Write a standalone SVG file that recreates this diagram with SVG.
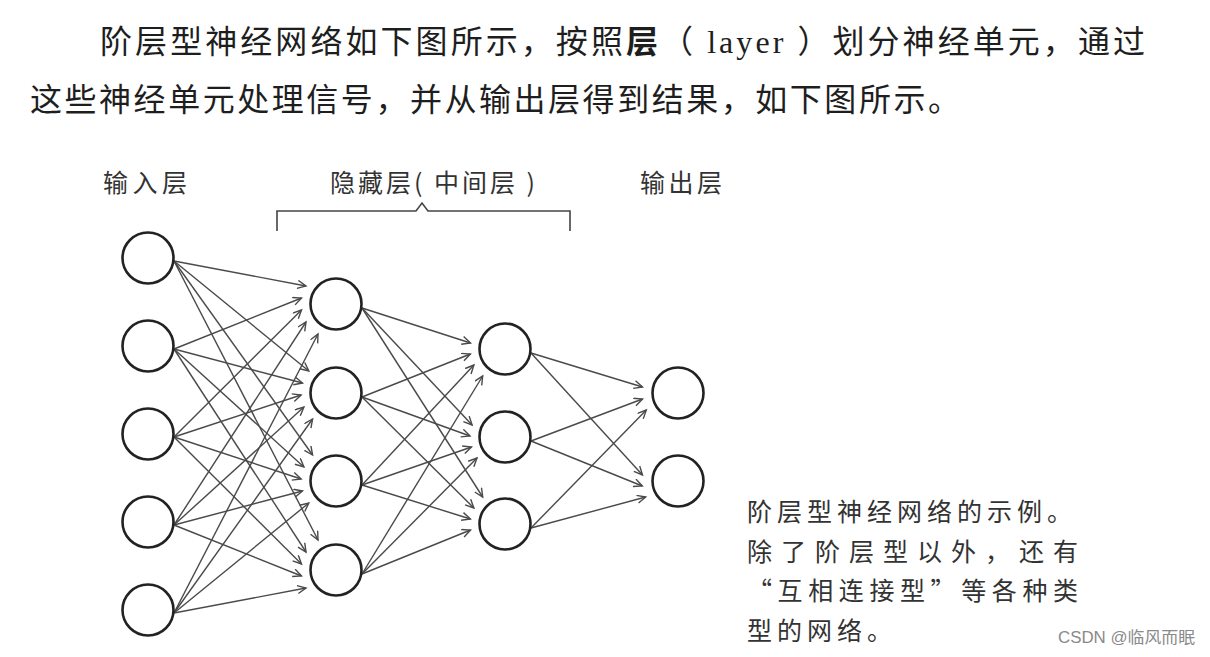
<svg xmlns="http://www.w3.org/2000/svg" width="1210" height="657" viewBox="0 0 1210 657">
<style>
.para{font-family:"Liberation Serif","Noto Sans CJK SC",serif;font-size:32px;fill:#1e1e1e}
.lbl{font-family:"Noto Sans CJK SC","Noto Sans",sans-serif;font-size:25px;fill:#333}
.cap{font-family:"Noto Sans CJK SC","Noto Sans",sans-serif;font-size:25px;fill:#333}
.wm{font-family:"Liberation Sans","Noto Sans CJK SC",sans-serif;font-size:16px;fill:#8a8a8a}
.node{fill:#fff;stroke:#222;stroke-width:2.6}
.edge{stroke:#4a4a4a;stroke-width:1.4;fill:none;marker-end:url(#ah)}
</style>
<defs>
<marker id="ah" markerWidth="11" markerHeight="11" refX="9" refY="4.5" orient="auto" markerUnits="userSpaceOnUse">
<path d="M0.5,0.5 L9,4.5 L0.5,8.5" fill="none" stroke="#4a4a4a" stroke-width="1.4"/>
</marker>
</defs>
<rect width="1210" height="657" fill="#fff"/>
<text class="para" x="100" y="53" textLength="1045" lengthAdjust="spacing">阶层型神经网络如下图所示，按照<tspan font-weight="bold">层</tspan>（ layer ）划分神经单元，通过</text>
<text class="para" x="30" y="111" textLength="930" lengthAdjust="spacing">这些神经单元处理信号，并从输出层得到结果，如下图所示。</text>
<text class="lbl" x="103" y="192" textLength="84" lengthAdjust="spacing">输入层</text>
<text class="lbl" x="330" y="192" textLength="205" lengthAdjust="spacing">隐藏层( 中间层 )</text>
<text class="lbl" x="640" y="192" textLength="82" lengthAdjust="spacing">输出层</text>
<path d="M277,231 V211 H416 L422,203 L428,211 H570 V231" fill="none" stroke="#444" stroke-width="1.6"/>
<g id="connectors">
<line class="edge" x1="174" y1="261" x2="306" y2="286"/>
<line class="edge" x1="174" y1="261" x2="308.8" y2="371"/>
<line class="edge" x1="174" y1="261" x2="312.6" y2="455"/>
<line class="edge" x1="174" y1="261" x2="318" y2="540"/>
<line class="edge" x1="174" y1="349" x2="301.5" y2="298"/>
<line class="edge" x1="174" y1="349" x2="302.5" y2="383"/>
<line class="edge" x1="174" y1="349" x2="303.9" y2="467"/>
<line class="edge" x1="174" y1="349" x2="306" y2="552"/>
<line class="edge" x1="174" y1="437" x2="301.5" y2="310"/>
<line class="edge" x1="174" y1="437" x2="301.1" y2="395"/>
<line class="edge" x1="174" y1="437" x2="301.1" y2="479"/>
<line class="edge" x1="174" y1="437" x2="301.5" y2="564"/>
<line class="edge" x1="174" y1="525" x2="306" y2="322"/>
<line class="edge" x1="174" y1="525" x2="303.9" y2="407"/>
<line class="edge" x1="174" y1="525" x2="302.5" y2="491"/>
<line class="edge" x1="174" y1="525" x2="301.5" y2="576"/>
<line class="edge" x1="174" y1="613" x2="318" y2="334"/>
<line class="edge" x1="174" y1="613" x2="312.6" y2="419"/>
<line class="edge" x1="174" y1="613" x2="308.8" y2="503"/>
<line class="edge" x1="174" y1="613" x2="306" y2="588"/>
<line class="edge" x1="362" y1="308" x2="470.5" y2="343"/>
<line class="edge" x1="362" y1="308" x2="472.1" y2="425"/>
<line class="edge" x1="362" y1="308" x2="482.7" y2="497"/>
<line class="edge" x1="362" y1="397" x2="470.4" y2="354"/>
<line class="edge" x1="362" y1="397" x2="470" y2="436"/>
<line class="edge" x1="362" y1="397" x2="473.9" y2="508"/>
<line class="edge" x1="362" y1="485" x2="473.9" y2="365"/>
<line class="edge" x1="362" y1="485" x2="471.5" y2="447"/>
<line class="edge" x1="362" y1="485" x2="470.4" y2="519"/>
<line class="edge" x1="362" y1="574" x2="482.7" y2="376"/>
<line class="edge" x1="362" y1="574" x2="477" y2="458"/>
<line class="edge" x1="362" y1="574" x2="470.5" y2="530"/>
<line class="edge" x1="531" y1="353" x2="642.5" y2="387"/>
<line class="edge" x1="531" y1="353" x2="642.5" y2="475"/>
<line class="edge" x1="531" y1="441" x2="642.5" y2="399"/>
<line class="edge" x1="531" y1="441" x2="642.3" y2="486"/>
<line class="edge" x1="531" y1="528" x2="646.3" y2="410"/>
<line class="edge" x1="531" y1="528" x2="645.7" y2="497"/>
</g>
<g id="in1"><circle class="node" cx="148" cy="258" r="25.5"/></g>
<g id="in2"><circle class="node" cx="148" cy="346" r="25.5"/></g>
<g id="in3"><circle class="node" cx="148" cy="434" r="25.5"/></g>
<g id="in4"><circle class="node" cx="148" cy="522" r="25.5"/></g>
<g id="in5"><circle class="node" cx="148" cy="610" r="25.5"/></g>
<g id="h1"><circle class="node" cx="336" cy="304" r="25.5"/></g>
<g id="h2"><circle class="node" cx="336" cy="393" r="25.5"/></g>
<g id="h3"><circle class="node" cx="336" cy="481" r="25.5"/></g>
<g id="h4"><circle class="node" cx="336" cy="570" r="25.5"/></g>
<g id="g1"><circle class="node" cx="505" cy="349" r="25.5"/></g>
<g id="g2"><circle class="node" cx="505" cy="437" r="25.5"/></g>
<g id="g3"><circle class="node" cx="505" cy="524" r="25.5"/></g>
<g id="o1"><circle class="node" cx="678" cy="393" r="25.5"/></g>
<g id="o2"><circle class="node" cx="678" cy="481" r="25.5"/></g>
<text class="cap" x="747" y="521" letter-spacing="5">阶层型神经网络的示例。</text>
<text class="cap" x="747" y="561" textLength="331" lengthAdjust="spacing">除了阶层型以外，还有</text>
<text class="cap" x="747" y="600" textLength="331" lengthAdjust="spacing">“互相连接型”等各种类</text>
<text class="cap" x="747" y="640" letter-spacing="5">型的网络。</text>
<text class="wm" x="1058" y="643" textLength="137" lengthAdjust="spacingAndGlyphs">CSDN @临风而眠</text>
</svg>
